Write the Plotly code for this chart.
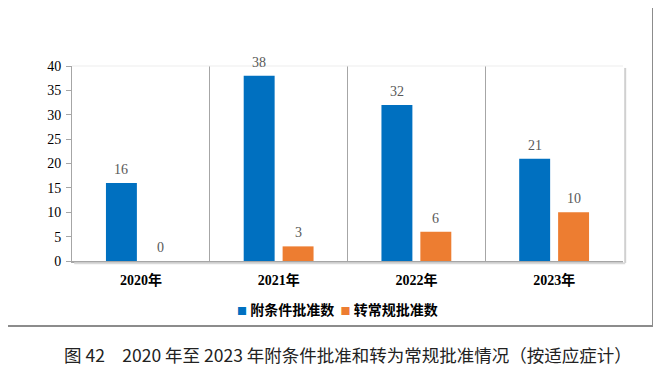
import plotly.graph_objects as go

years = ["2020年", "2021年", "2022年", "2023年"]
conditional = [16, 38, 32, 21]
converted = [0, 3, 6, 10]
series_names = ["附条件批准数", "转常规批准数"]
series_colors = ["#0070C0", "#ED7D31"]
y_ticks = [0, 5, 10, 15, 20, 25, 30, 35, 40]
caption = "图 42　2020 年至 2023 年附条件批准和转为常规批准情况（按适应症计）"

# page body has an 8px margin: work in reference pixels, shift by OFF
OFF = 8
W, H = 661 - OFF, 367 - OFF
L, R, T, B = 72 - OFF, 623 - OFF, 66 - OFF, 261 - OFF
pw, ph = R - L, B - T


def px(x):
    return (x - OFF - L) / pw


def py(y):
    return (B - (y - OFF)) / ph


num_font = "'Liberation Serif', 'Times New Roman', serif"

fig = go.Figure()
for name, vals, col in [(series_names[0], conditional, series_colors[0]),
                        (series_names[1], converted, series_colors[1])]:
    fig.add_trace(go.Bar(
        x=years, y=vals, name=name,
        marker=dict(color=col, line=dict(width=0)),
        showlegend=False,
    ))

annotations = []
for vals, shift in [(conditional, -19.5), (converted, 19.5)]:
    for yr, v in zip(years, vals):
        annotations.append(dict(
            x=yr, y=v, xref="x", yref="y", text=str(v), showarrow=False,
            xshift=shift, yshift=13.5, xanchor="center", yanchor="middle",
            font=dict(family=num_font, size=14, color="#595959"),
        ))

legend_text = (
    f'<span style="color:{series_colors[0]};font-size:10px">■</span> {series_names[0]}'
    f'  <span style="color:{series_colors[1]};font-size:10px">■</span> {series_names[1]}'
)
annotations.append(dict(
    text=legend_text, xref="paper", yref="paper", x=px(337), y=py(309),
    xanchor="center", yanchor="middle", showarrow=False,
    font=dict(family="Noto Sans CJK SC", size=14, color="#000000", weight="bold"),
))
annotations.append(dict(
    text=caption, xref="paper", yref="paper", x=px(347.5), y=py(354),
    xanchor="center", yanchor="middle", showarrow=False,
    font=dict(family="Noto Sans CJK SC", size=17.5, color="#222222"),
))

fig.update_layout(
    width=W, height=H,
    margin=dict(l=L, r=W - R, t=T, b=H - B, pad=0),
    paper_bgcolor="white", plot_bgcolor="white",
    barmode="group", bargap=0.435, bargroupgap=0.205,
    showlegend=False,
    xaxis=dict(
        type="category", tickson="boundaries",
        showgrid=True, gridcolor="#A6A6A6", gridwidth=1,
        showline=True, linecolor="#A6A6A6", linewidth=1.5,
        ticks="", tickfont=dict(family="'Liberation Serif', 'Noto Sans CJK SC', serif", size=14,
                                color="#000000", weight="bold"),
        ticklabelstandoff=5,
    ),
    yaxis=dict(
        range=[0, 40], tickvals=y_ticks, showgrid=False,
        showline=True, linecolor="#A6A6A6", linewidth=1,
        ticks="outside", ticklen=5, tickcolor="#A6A6A6",
        tickfont=dict(family=num_font, size=14, color="#000000"),
        ticklabelstandoff=2,
        zeroline=False,
    ),
    shapes=[
        dict(type="rect", xref="paper", yref="paper",
             x0=px(7), x1=px(653), y0=py(326), y1=py(6),
             line=dict(color="#8C8C8C", width=2), fillcolor="rgba(0,0,0,0)", layer="below"),
        dict(type="line", xref="paper", yref="paper", x0=0, x1=1, y0=1, y1=1,
             line=dict(color="#EDEDED", width=1)),
        dict(type="line", xref="paper", yref="paper", x0=1.004, x1=1.004, y0=-0.01, y1=0.99,
             line=dict(color="#D0D0D0", width=2)),
        dict(type="line", xref="paper", yref="paper", x0=0.004, x1=1.004, y0=-0.012, y1=-0.012,
             line=dict(color="#D9D9D9", width=2)),
    ],
    annotations=annotations,
)

fig.write_html("out.html")
